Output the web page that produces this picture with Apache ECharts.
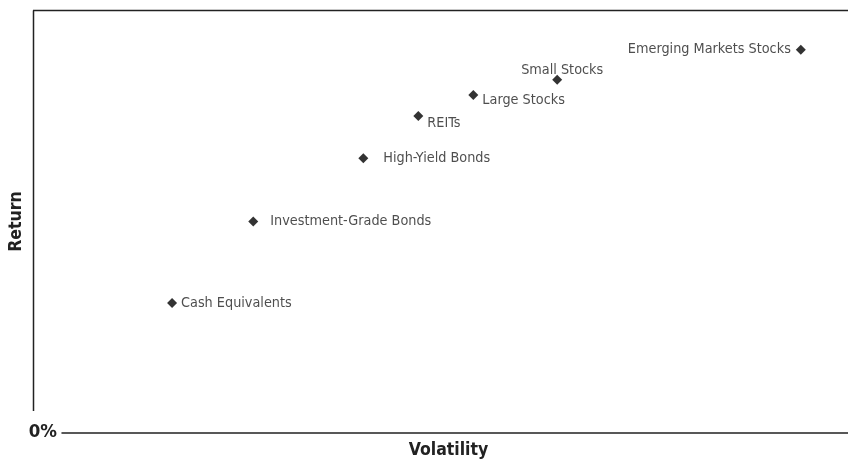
<!DOCTYPE html>
<html>
<head>
<meta charset="utf-8">
<script src="https://cdn.jsdelivr.net/npm/echarts@6/dist/echarts.min.js"></script>
<style>
  html, body { margin: 0; padding: 0; background: #fff; }
  #chart { width: 848px; height: 459px; }
</style>
</head>
<body>
<div id="chart"></div>
<script>
// asset classes and their (volatility, return)
const names = ['Emerging Markets Stocks', 'Small Stocks', 'Large Stocks', 'REITs',
  'High-Yield Bonds', 'Investment-Grade Bonds', 'Cash Equivalents']
const volatility = [28.2, 18.9, 15.7, 13.6, 11.5, 7.3, 4.2]
const returns = [12.7, 11.7, 11.2, 10.5, 9.1, 7.0, 4.3]

const FONT = '"Liberation Sans Narrow", "DejaVu Sans Condensed", sans-serif'

// where each label sits next to its marker
const labelPlace = {
  'Emerging Markets Stocks': { position: 'left', distance: 5, offset: [0, 0] },
  'Small Stocks': { position: 'top', distance: 1, offset: [5, 3] },
  'Large Stocks': { position: 'right', distance: 4, offset: [0, 5] },
  'REITs': { position: 'right', distance: 4, offset: [0, 7] },
  'High-Yield Bonds': { position: 'right', distance: 15, offset: [0, 0] },
  'Investment-Grade Bonds': { position: 'right', distance: 12, offset: [0, 0] },
  'Cash Equivalents': { position: 'right', distance: 4, offset: [0, 0] }
}

const points = names.map((n, i) => ({
  name: n,
  value: [volatility[i], returns[i]],
  label: labelPlace[n]
}))

const chart = echarts.init(document.getElementById('chart'))
chart.setOption({
  animation: false,
  grid: { left: 62, right: 0, top: 10.5, bottom: 26.5, containLabel: false, outerBoundsMode: 'none' },
  xAxis: {
    type: 'value',
    min: 0,
    max: 30,
    name: 'Volatility',
    nameLocation: 'middle',
    nameGap: 9,
    nameMoveOverlap: false,
    nameTextStyle: {
      fontFamily: FONT, fontSize: 17.5, fontWeight: 'bold', color: '#222',
      padding: [0, 13, 0, 0]
    },
    axisLine: { show: true, lineStyle: { color: '#222', width: 1.5 } },
    axisTick: { show: false },
    axisLabel: { show: false },
    splitLine: { show: false }
  },
  yAxis: {
    type: 'value',
    min: 0,
    max: 14,
    name: 'Return',
    nameLocation: 'middle',
    nameGap: 37,
    nameMoveOverlap: false,
    nameTextStyle: { fontFamily: FONT, fontSize: 17.5, fontWeight: 'bold', color: '#222' },
    axisLine: { show: false },
    axisTick: { show: false },
    splitLine: { show: false },
    axisLabel: {
      margin: 5,
      fontFamily: FONT, fontSize: 18.5, fontWeight: 'bold', color: '#222',
      formatter: v => (v === 0 ? '0%' : '')
    }
  },
  graphic: [
    { type: 'line', shape: { x1: 33.5, y1: 10.5, x2: 33.5, y2: 411 },
      style: { stroke: '#222', lineWidth: 1.5 } },
    { type: 'line', shape: { x1: 33, y1: 10.5, x2: 848, y2: 10.5 },
      style: { stroke: '#222', lineWidth: 1.5 } }
  ],
  series: [{
    type: 'scatter',
    symbol: 'diamond',
    symbolSize: 10,
    itemStyle: { color: '#000' },
    label: {
      show: true,
      formatter: '{b}',
      fontFamily: FONT,
      fontSize: 14.3,
      color: '#222'
    },
    data: points
  }]
})
</script>
</body>
</html>
